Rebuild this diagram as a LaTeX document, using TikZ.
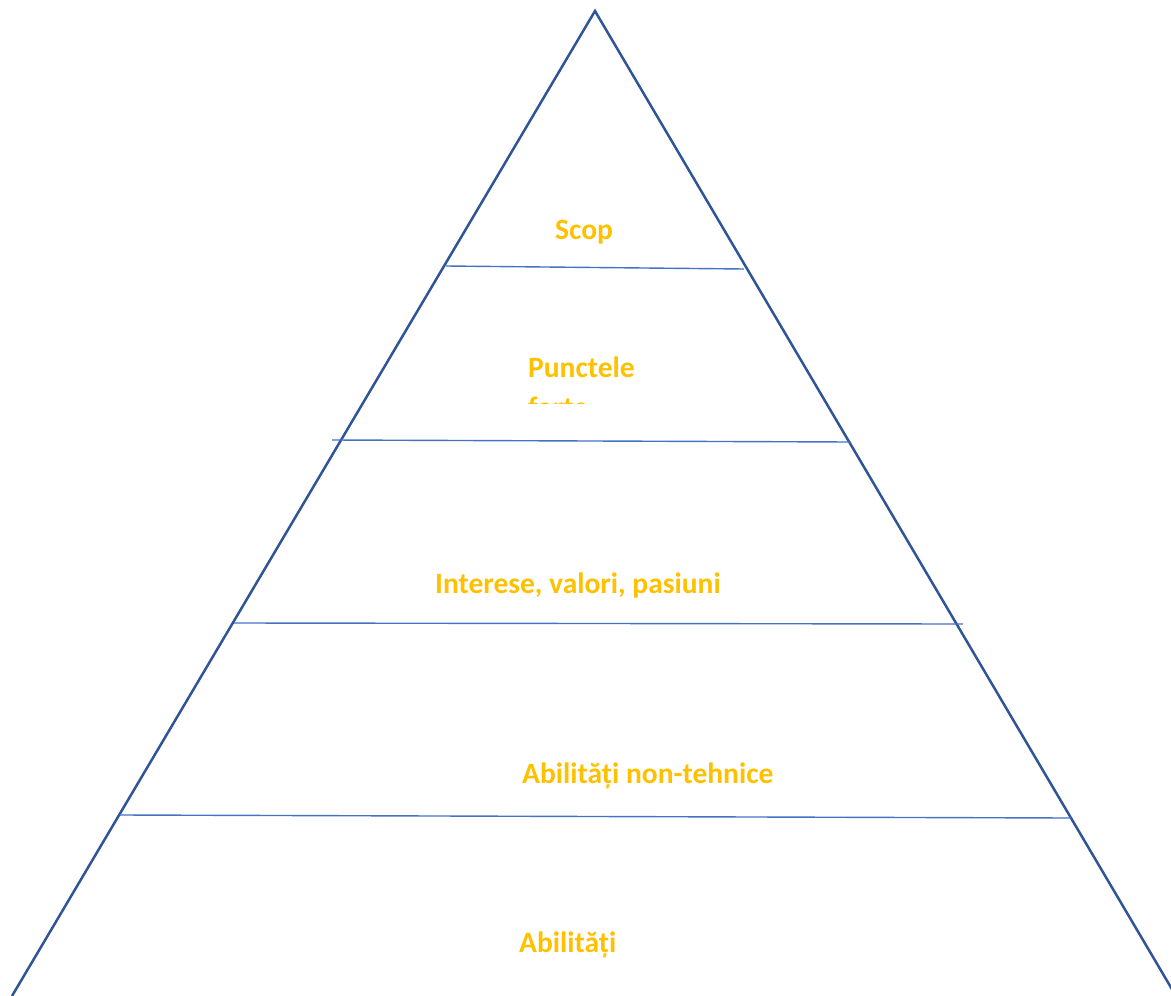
\documentclass[tikz,border=0pt]{standalone}
\usepackage{fontspec}
\setmainfont{Carlito}
\definecolor{triblue}{HTML}{2F5597}
\definecolor{lineblue}{HTML}{4472C4}
\definecolor{labelorange}{HTML}{FFC000}
\tikzset{
  side/.style={draw=triblue, line width=2.5pt, line join=miter},
  divider/.style={draw=lineblue, line width=1.4pt},
  tierlabel/.style={anchor=base west, inner sep=0pt, text=labelorange,
    font=\fontsize{29.5}{40}\selectfont\bfseries, align=left}
}
\begin{document}
\begin{tikzpicture}[x=1pt,y=-1pt]
  \useasboundingbox (0,0) rectangle (1171,996);
  \clip (0,0) rectangle (1171,996);
  % triangle
  \coordinate (apex) at (595,11);
  \coordinate (bl) at (12,996);
  \coordinate (br) at (1176,996);
  \draw[side] (bl) -- (apex) -- (br);
  % dividers
  \coordinate (d1a) at (446,266);  \coordinate (d1b) at (744,269);
  \coordinate (d2a) at (332,440);  \coordinate (d2b) at (851,442);
  \coordinate (d3a) at (234,623);  \coordinate (d3b) at (963,624);
  \coordinate (d4a) at (120,815);  \coordinate (d4b) at (1071,818);
  \draw[divider] (d1a) -- (d1b);
  \draw[divider] (d2a) -- (d2b);
  \draw[divider] (d3a) -- (d3b);
  \draw[divider] (d4a) -- (d4b);
  % labels
  \node[tierlabel] (scop) at (555,239) {Scop};
  \begin{scope}
    \clip (400,330) rectangle (700,403);
    \node[tierlabel] (punct) at (528,417) {Punctele\\forte};
  \end{scope}
  \node[tierlabel] (inter) at (435,593) {Interese, valori, pasiuni};
  \node[tierlabel] (nontech) at (522,783) {Abilități non-tehnice};
  \node[tierlabel] (abil) at (519,952) {Abilități};
\end{tikzpicture}
\end{document}
